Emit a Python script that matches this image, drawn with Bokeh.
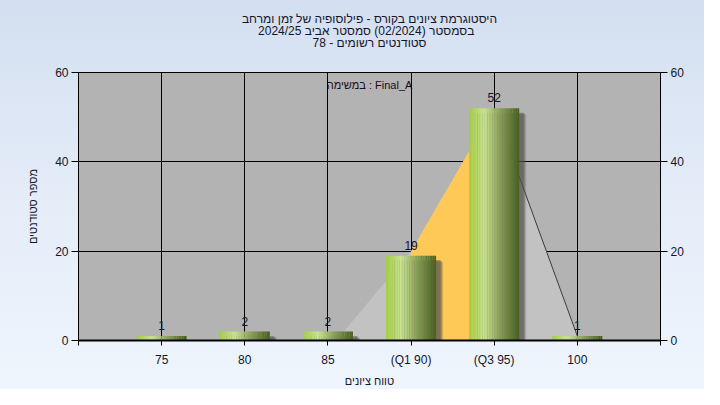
from bokeh.plotting import figure
from bokeh.models import Range1d, LinearAxis, FixedTicker, Label, Title
from bokeh.core.properties import value
from bokeh.embed import file_html
from bokeh.resources import INLINE

# ---- data ----
categories = ["75", "80", "85", "(Q1 90)", "(Q3 95)", "100"]
counts = [1, 2, 2, 19, 52, 1]
# distribution polygon (category index, students)
dist_x = [3.1, 4, 5, 6]
dist_y = [0, 20, 52, 1]
q1_index = 4
q3_index = 5
y_ticks = [0, 20, 40, 60]

title_lines = [
    "היסטוגרמת ציונים בקורס - פילוסופיה של זמן ומרחב",
    "בסמסטר  (02/2024)  סמסטר אביב 2024/25",
    "סטודנטים רשומים - 78",
]
task_label = "במשימה : Final_A"
x_title = "טווח ציונים"
y_title = "מספר סטודנטים"

FONT = "Liberation Sans"
TXT = "#15152a"

p = figure(width=704, height=389, x_range=Range1d(0, 7), y_range=Range1d(0, 60),
           output_backend="svg", toolbar_location=None, title=None,
           min_border_left=78, min_border_right=44, min_border_top=72, min_border_bottom=46)
p.border_fill_color = None
p.styles = {"background": "linear-gradient(to bottom, #d3dff0 0%, #e4ecf8 50%, #eef5fd 100%)"}
p.background_fill_color = "#b3b3b3"
p.outline_line_color = "black"
p.outline_line_width = 1

# spacer between frame and the title block
p.add_layout(Title(text="\u00a0", text_font=FONT, text_font_size="12px", standoff=9), "above")
# title lines (added nearest-first)
for line in reversed(title_lines):
    p.add_layout(Title(text=line, align="center", text_font=FONT, text_font_size="12px",
                       text_font_style="normal", text_color=TXT, offset=-13, standoff=-4), "above")

# grids
p.xgrid.ticker = FixedTicker(ticks=list(range(1, len(categories) + 1)))
p.ygrid.ticker = FixedTicker(ticks=y_ticks[1:-1])
for g in (p.xgrid, p.ygrid):
    g.grid_line_color = "black"
    g.grid_line_width = 1

# distribution polygon
cx = [i + 1 for i in range(len(categories))]
poly_x = [dist_x[0]] + dist_x + [dist_x[-1]]
poly_y = [0] + dist_y + [0]
p.patch(poly_x, poly_y, fill_color="#c2c2c2", line_color=None)
# Q1..Q3 highlighted part
qa = dist_x.index(q1_index)
qb = dist_x.index(q3_index)
yx = [dist_x[qa]] + dist_x[qa:qb + 1] + [dist_x[qb]]
yy = [0] + dist_y[qa:qb + 1] + [0]
p.patch(yx, yy, fill_color="#fec957", line_color=None)
p.line(dist_x[qb:], dist_y[qb:], line_color="#3c3c3c", line_width=1)

# bar shadows (soft)
bw = 0.6
for dx, dy, a in [(0.085, 1.4, 0.25), (0.07, 1.2, 0.35), (0.055, 1.0, 0.45)]:
    p.vbar(x=[c + dx for c in cx], width=bw, bottom=0, top=[v - dy for v in counts],
           fill_color="#505050", fill_alpha=a, line_color=None)

# gradient bars built from strips
stops = [(0.0, (162, 205, 66)), (0.3, (202, 228, 144)), (0.6, (140, 163, 92)), (1.0, (70, 94, 30))]


def grad(t):
    for (t0, c0), (t1, c1) in zip(stops[:-1], stops[1:]):
        if t0 <= t <= t1:
            f = (t - t0) / (t1 - t0)
            return "#%02x%02x%02x" % tuple(int(round(a + (b - a) * f)) for a, b in zip(c0, c1))
    return "#%02x%02x%02x" % stops[-1][1]


N = 30
sx, stop_, scol = [], [], []
for c, v in zip(cx, counts):
    for k in range(N):
        t = (k + 0.5) / N
        sx.append(c - bw / 2 + t * bw)
        stop_.append(v)
        scol.append(grad(t))
p.vbar(x=sx, width=bw / N * 1.08, bottom=0, top=stop_, fill_color=scol, line_color=None)

# value labels
p.text(x=cx, y=counts, text=[str(v) for v in counts], text_align="center", text_baseline="bottom",
       y_offset=-6, text_font=value(FONT), text_font_size="12px", text_color=TXT)

# task label
p.add_layout(Label(x=3.5, y=57.1, text=task_label, text_align="center", text_baseline="middle",
                   text_font=FONT, text_font_size="11px", text_color="#200a20"))

# axes
xa = p.xaxis[0]
ya = p.yaxis[0]
xa.ticker = FixedTicker(ticks=list(range(0, len(categories) + 2)))
xa.major_label_overrides = {i + 1: c for i, c in enumerate(categories)} | {0: "", len(categories) + 1: ""}
ya.ticker = FixedTicker(ticks=y_ticks)
ra = LinearAxis(ticker=FixedTicker(ticks=y_ticks))
p.add_layout(ra, "right")

for ax in (xa, ya, ra):
    ax.axis_line_color = "black"
    ax.major_tick_line_color = "black"
    ax.minor_tick_line_color = None
    ax.major_tick_in = 0
    ax.major_label_text_font = FONT
    ax.major_label_text_font_size = "12px"
    ax.major_label_text_color = TXT
    ax.axis_label_text_font = FONT
    ax.axis_label_text_font_size = "11px"
    ax.axis_label_text_font_style = "normal"
    ax.axis_label_text_color = TXT

xa.major_tick_out = 5
xa.major_label_standoff = 7
xa.axis_line_width = 2
xa.axis_label = x_title
xa.axis_label_standoff = 5
ya.major_tick_out = 7
ya.major_label_standoff = 3
ya.axis_label = y_title
ya.axis_label_standoff = 13
ra.major_tick_out = 7
ra.major_label_standoff = 3

open("out.html", "w").write(file_html(p, INLINE))
